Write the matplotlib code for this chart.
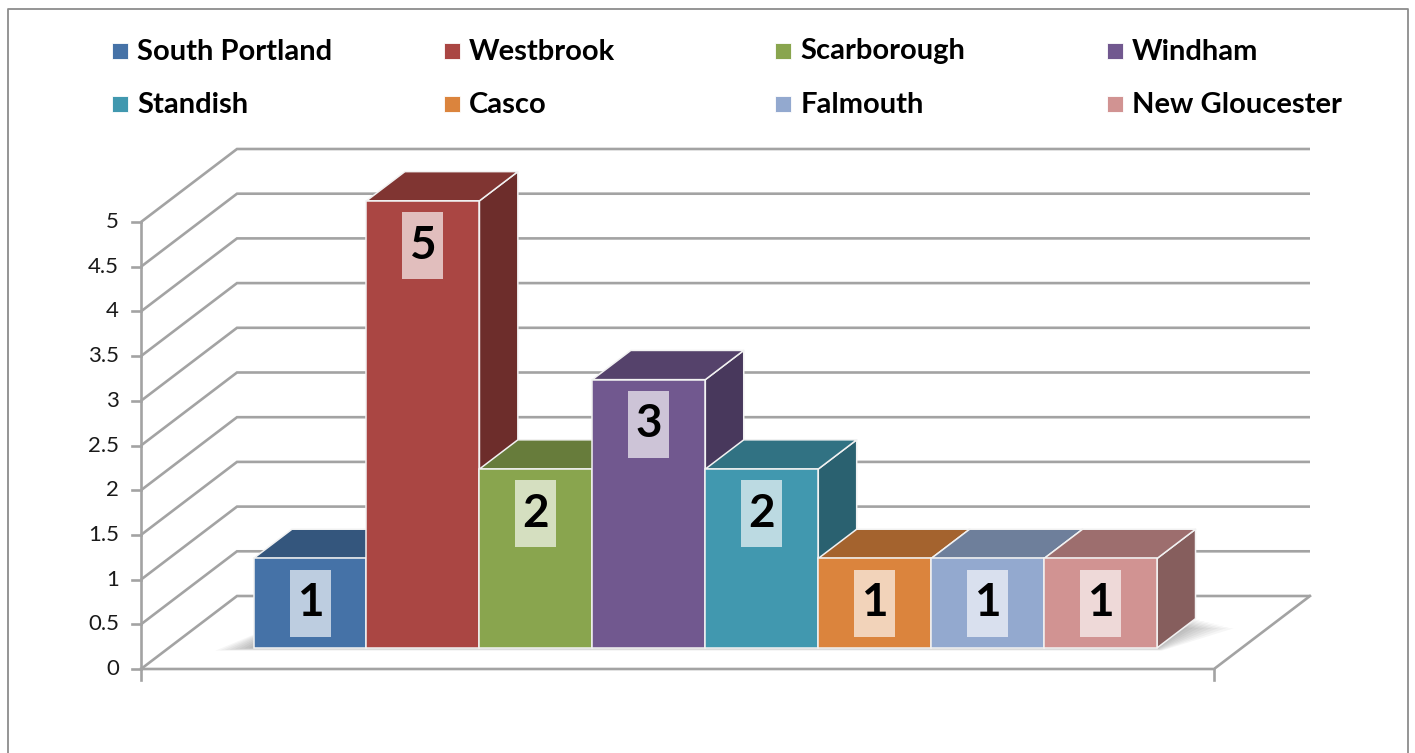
import matplotlib
matplotlib.use("Agg")
import matplotlib.pyplot as plt
from matplotlib.patches import Polygon, Rectangle
from matplotlib.lines import Line2D
import numpy as np

plt.rcParams['font.family'] = ['Lato', 'DejaVu Sans']

# ---------------- data ----------------
towns = ["South Portland", "Westbrook", "Scarborough", "Windham",
         "Standish", "Casco", "Falmouth", "New Gloucester"]
values = [1, 5, 2, 3, 2, 1, 1, 1]
colors = ["#4572A7", "#AA4643", "#89A54E", "#71588F",
          "#4198AF", "#DB843D", "#93A9CF", "#D19392"]
yticks = [0, 0.5, 1, 1.5, 2, 2.5, 3, 3.5, 4, 4.5, 5]
ytick_labels = ["0", "0.5", "1", "1.5", "2", "2.5", "3", "3.5", "4", "4.5", "5"]

# ---------------- layout ----------------
W_PX, H_PX = 1415, 753
fig = plt.figure(figsize=(W_PX / 100, H_PX / 100), dpi=100)
ax = fig.add_axes([0, 0, 1, 1])
ax.axis('off')

AX_LEFT, AX_RIGHT, AX_BASE, PX_UNIT = 141, 1214, 669, 89.4
span = AX_RIGHT - AX_LEFT
ax.set_xlim((0 - AX_LEFT) / span, (W_PX - AX_LEFT) / span)
ax.set_ylim((AX_BASE - H_PX) / PX_UNIT, AX_BASE / PX_UNIT)

DX, DY = 96 / span, 73 / PX_UNIT          # full depth vector (data units)
F0, F1 = 0.29, 0.69                      # bar depth range (fraction)
ymax = yticks[-1]

grid_c = "#A3A3A3"
glw = 1.9

# back wall gridlines + side wall diagonals
for v in yticks:
    ax.plot([0, DX, 1 + DX], [v, v + DY, v + DY], color=grid_c, lw=glw,
            zorder=1, solid_capstyle='butt', solid_joinstyle='miter')
# floor front + right edge
ax.plot([0, 1, 1 + DX], [0, 0, DY], color=grid_c, lw=glw, zorder=1,
        solid_joinstyle='miter')
# y axis
ax.plot([0, 0], [0, ymax], color=grid_c, lw=glw, zorder=1)
tick_len = 9 / span
for v, lab in zip(yticks, ytick_labels):
    ax.plot([-tick_len, 0], [v, v], color=grid_c, lw=glw, zorder=1)
    ax.text(-22 / span, v, lab, ha='right', va='center', fontsize=16,
            color='#1a1a1a')
# x-axis tick marks
for xv in [0, 1]:
    ax.plot([xv, xv], [0, -11 / PX_UNIT], color=grid_c, lw=glw, zorder=1)


def shade(c, f):
    r, g, b = matplotlib.colors.to_rgb(c)
    return (r * f, g * f, b * f)


n = len(values)
bw = 1.0 / (n + 1.5)
gap = 0.75 * bw
bdx, bdy = (F1 - F0) * DX, (F1 - F0) * DY
edge = "#F2F2F2"
elw = 1.1

# soft shadow under bars
x_start = gap + F0 * DX
x_end = gap + n * bw + F0 * DX
for k in range(8):
    ex = (k + 1) * 3 / span
    ey = (k + 1) * 1.2 / PX_UNIT
    ax.add_patch(Polygon([(x_start - ex * 1.6, F0 * DY - ey * 0.3),
                          (x_end + ex * 0.2, F0 * DY - ey * 0.3),
                          (x_end + bdx + ex * 1.6, F0 * DY + bdy - ey),
                          (x_start + bdx, F0 * DY + bdy)],
                         closed=True, facecolor='black', edgecolor='none',
                         alpha=0.035, zorder=2))

for i, (v, c) in enumerate(zip(values, colors)):
    x0 = gap + i * bw + F0 * DX
    y0 = F0 * DY
    z = 3 + i * 0.1
    side = Polygon([(x0 + bw, y0), (x0 + bw + bdx, y0 + bdy),
                    (x0 + bw + bdx, y0 + v + bdy), (x0 + bw, y0 + v)],
                   closed=True, facecolor=shade(c, 0.64), edgecolor=edge,
                   lw=elw, zorder=z, joinstyle='round')
    top = Polygon([(x0, y0 + v), (x0 + bw, y0 + v),
                   (x0 + bw + bdx, y0 + v + bdy), (x0 + bdx, y0 + v + bdy)],
                  closed=True, facecolor=shade(c, 0.75), edgecolor=edge,
                  lw=elw, zorder=z + 0.01, joinstyle='round')
    front = Rectangle((x0, y0), bw, v, facecolor=c, edgecolor=edge, lw=elw,
                      zorder=z + 0.02)
    ax.add_patch(side)
    ax.add_patch(top)
    ax.add_patch(front)
    # data label
    cx = x0 + bw / 2
    cy = y0 + v - 0.5
    lw_box, lh_box = 41 / span, 67 / PX_UNIT
    ax.add_patch(Rectangle((cx - lw_box / 2, cy - lh_box / 2), lw_box, lh_box,
                           facecolor='white', edgecolor='none', alpha=0.65,
                           zorder=z + 0.03))
    ax.text(cx, cy, str(v), ha='center', va='center', fontsize=33,
            fontweight='bold', color='black', zorder=z + 0.04)

# ---------------- legend ----------------
LEG_X0, LEG_DX, LEG_Y0, LEG_DY, MK = 112, 331.7, 50.5, 53.5, 16
for i, (t, c) in enumerate(zip(towns, colors)):
    col, row = i % 4, i // 4
    mx = LEG_X0 + col * LEG_DX
    my = LEG_Y0 + row * LEG_DY
    fig.patches.append(Rectangle((mx / W_PX, 1 - (my + MK / 2) / H_PX),
                                 MK / W_PX, MK / H_PX, transform=fig.transFigure,
                                 facecolor=c, edgecolor='white', lw=0.6,
                                 figure=fig))
    fig.text((mx + 25) / W_PX, 1 - (my + 1) / H_PX, t, ha='left', va='center',
             fontsize=21, fontweight='bold', color='black')

# chart border
fig.lines.append(Line2D([8 / W_PX, 8 / W_PX, 1408 / W_PX, 1408 / W_PX],
                        [-0.05, 1 - 9 / H_PX, 1 - 9 / H_PX, -0.05],
                        transform=fig.transFigure, color='#8C8C8C', lw=1.3,
                        figure=fig))

fig.savefig("out.png", dpi=100)
